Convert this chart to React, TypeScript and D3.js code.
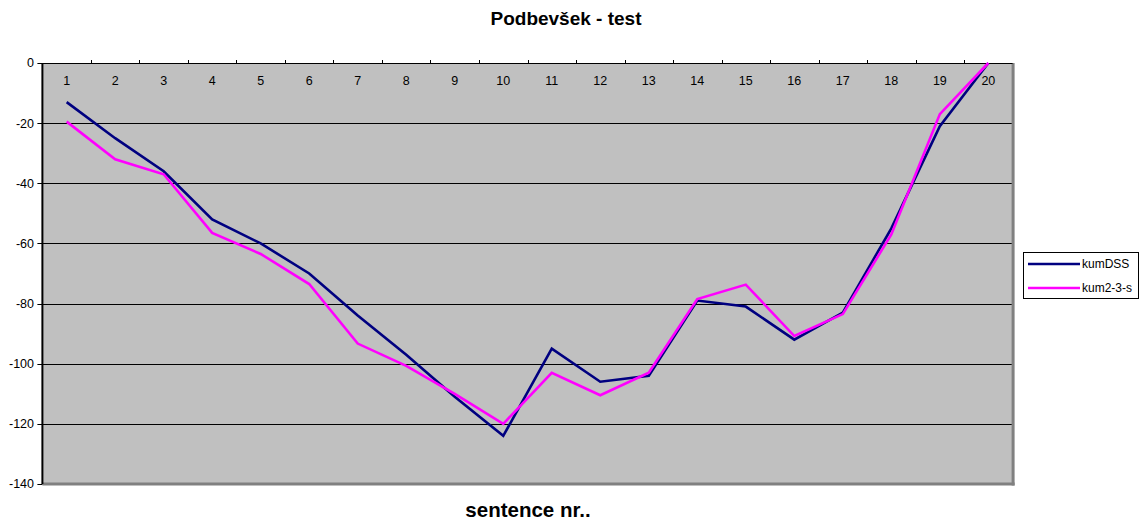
import React from "react";
import * as d3 from "d3";

const categories: string[] = ["1","2","3","4","5","6","7","8","9","10","11","12","13","14","15","16","17","18","19","20"];
const kumDSS: number[] = [-13,-25,-36,-52,-60,-70,-84,-97,-111,-124,-95,-106,-104,-79,-81,-92,-83,-55,-21,0];
const kum23s: number[] = [-19.5,-32,-37,-56.5,-63.5,-73.5,-93.3,-100.7,-110,-120,-103,-110.5,-103,-78.5,-73.7,-90.8,-83.5,-57,-17,0];
const yTicks: number[] = [0,-20,-40,-60,-80,-100,-120,-140];
const seriesNames: string[] = ["kumDSS", "kum2-3-s"];
const seriesColors: string[] = ["#000080", "#FF00FF"];

const W = 1139, H = 525;
const plot = { left: 42.4, right: 1012.6, top: 63, bottom: 484 };
const FONT = "'Liberation Sans', Arial, sans-serif";

export default function App() {
  const x = d3.scaleBand<string>().domain(categories).range([plot.left, plot.right]).padding(0);
  const y = d3.scaleLinear().domain([-140, 0]).range([plot.bottom, plot.top]);
  const cx = (c: string) => (x(c) as number) + x.bandwidth() / 2;
  const line = d3.line<number>().x((_, i) => cx(categories[i])).y((d) => y(d));
  const series = [kumDSS, kum23s];

  return (
    <div style={{ position: "absolute", left: 0, top: 0, width: W, height: H, background: "#fff" }}>
      <svg width={W} height={H} style={{ display: "block", fontFamily: FONT }}>
        <rect x={plot.left} y={plot.top} width={plot.right - plot.left} height={plot.bottom - plot.top} fill="#C0C0C0" />
        {yTicks.filter((t) => t !== 0 && t !== -140).map((t) => (
          <line key={t} x1={plot.left} x2={plot.right} y1={Math.round(y(t)) + 0.5} y2={Math.round(y(t)) + 0.5} stroke="#000" strokeWidth={1} />
        ))}
        {/* right & bottom borders */}
        <line x1={plot.right + 0.5} x2={plot.right + 0.5} y1={plot.top} y2={plot.bottom + 1.5} stroke="#808080" strokeWidth={3} />
        <line x1={plot.left} x2={plot.right + 2} y1={plot.bottom} y2={plot.bottom} stroke="#808080" strokeWidth={3} />
        {/* y axis */}
        <line x1={plot.left} x2={plot.left} y1={plot.top} y2={plot.bottom} stroke="#000" strokeWidth={2} />
        {yTicks.map((t) => (
          <g key={"yt" + t}>
            <line x1={plot.left - 5} x2={plot.left} y1={Math.round(y(t)) + 0.5} y2={Math.round(y(t)) + 0.5} stroke="#000" strokeWidth={1} />
            <text x={34} y={y(t)} dy="0.35em" textAnchor="end" fontSize={12.5} fill="#000">{t}</text>
          </g>
        ))}
        {/* x axis at y=0 (top) */}
        <line x1={plot.left} x2={plot.right} y1={plot.top + 0.5} y2={plot.top + 0.5} stroke="#000" strokeWidth={1} />
        {categories.map((c, i) => (
          <g key={"xt" + c}>
            {i > 0 && (
              <line x1={Math.round(x(c) as number) + 0.5} x2={Math.round(x(c) as number) + 0.5} y1={plot.top - 3} y2={plot.top} stroke="#000" strokeWidth={1} />
            )}
            <text x={cx(c)} y={81} dy="0.35em" textAnchor="middle" fontSize={12.5} fill="#000">{c}</text>
          </g>
        ))}
        {/* series */}
        {series.map((s, i) => (
          <path key={seriesNames[i]} d={line(s) as string} fill="none" stroke={seriesColors[i]} strokeWidth={2.6} strokeLinejoin="miter" />
        ))}
        {/* title */}
        <text x={566} y={18} dy="0.35em" textAnchor="middle" fontSize={19} fontWeight="bold" fill="#000">Podbevšek - test</text>
        <text x={528} y={510} dy="0.35em" textAnchor="middle" fontSize={20.5} fontWeight="bold" fill="#000">sentence nr..</text>
        {/* legend */}
        <rect x={1023.5} y={252.5} width={115} height={46} fill="#fff" stroke="#000" strokeWidth={1} />
        {seriesNames.map((n, i) => (
          <g key={"lg" + n}>
            <line x1={1028} x2={1080} y1={264 + i * 24} y2={264 + i * 24} stroke={seriesColors[i]} strokeWidth={2.6} />
            <text x={1082} y={264 + i * 24} dy="0.35em" fontSize={12} fill="#000">{n}</text>
          </g>
        ))}
      </svg>
    </div>
  );
}
